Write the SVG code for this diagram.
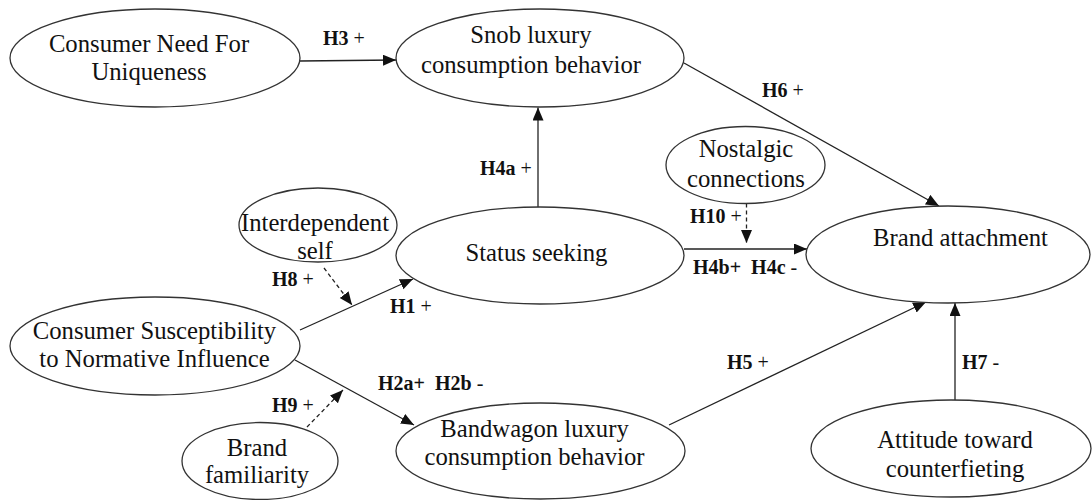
<svg xmlns="http://www.w3.org/2000/svg" width="1092" height="500" viewBox="0 0 1092 500">
<style>
.node ellipse{fill:#fff;stroke:#333;stroke-width:1.3}
.node text{font-family:"Liberation Serif","Times New Roman",serif;font-size:24.7px;fill:#111;text-anchor:middle}
.conn line{stroke:#222;stroke-width:1.3;fill:none}
.conn line.dash{stroke-dasharray:4 3}
.lbl{font-family:"Liberation Serif","Times New Roman",serif;font-size:20px;fill:#111}
.lbl .b{font-weight:bold}
</style>
<defs>
<marker id="arr" markerUnits="userSpaceOnUse" markerWidth="14" markerHeight="12" refX="13" refY="5.5" orient="auto">
<path d="M0,0 L13,5.5 L0,11 z" fill="#111"/>
</marker>
</defs>
<rect width="1092" height="500" fill="#fff"/>
<g id="connectors" class="conn">
<line x1="300" y1="61" x2="396" y2="60" marker-end="url(#arr)"/>
<line x1="538" y1="207" x2="538" y2="107.5" marker-end="url(#arr)"/>
<line x1="684" y1="63" x2="939" y2="206" marker-end="url(#arr)"/>
<line x1="300" y1="330" x2="413" y2="279" marker-end="url(#arr)"/>
<line x1="295" y1="360" x2="414" y2="425" marker-end="url(#arr)"/>
<line x1="684" y1="249" x2="807" y2="249" marker-end="url(#arr)"/>
<line x1="669" y1="425" x2="926" y2="302" marker-end="url(#arr)"/>
<line x1="955" y1="400" x2="955" y2="303" marker-end="url(#arr)"/>
<line class="dash" x1="746.5" y1="203.5" x2="746.5" y2="243" marker-end="url(#arr)"/>
<line class="dash" x1="324" y1="268" x2="352" y2="305" marker-end="url(#arr)"/>
<line class="dash" x1="307" y1="427" x2="343" y2="390" marker-end="url(#arr)"/>
</g>
<g id="labels" class="lbl">
<text x="323" y="45"><tspan class="b">H3</tspan> +</text>
<text x="480" y="175"><tspan class="b">H4a</tspan> +</text>
<text x="762" y="97"><tspan class="b">H6</tspan> +</text>
<text x="690" y="223"><tspan class="b">H10</tspan> +</text>
<text x="272" y="286"><tspan class="b">H8</tspan> +</text>
<text x="390" y="313"><tspan class="b">H1</tspan> +</text>
<text x="693" y="274" xml:space="preserve"><tspan class="b">H4b+  H4c</tspan> -</text>
<text x="378" y="390" xml:space="preserve"><tspan class="b">H2a+  H2b</tspan> -</text>
<text x="272" y="412"><tspan class="b">H9</tspan> +</text>
<text x="727" y="369"><tspan class="b">H5</tspan> +</text>
<text x="962" y="369"><tspan class="b">H7</tspan> -</text>
</g>
<g id="cnfu" class="node">
<ellipse cx="155" cy="58" rx="145" ry="49"/>
<text x="149" y="52">Consumer Need For</text>
<text x="149" y="80">Uniqueness</text>
</g>
<g id="snob" class="node">
<ellipse cx="540" cy="58" rx="144" ry="49"/>
<text x="531" y="43">Snob luxury</text>
<text x="531" y="73">consumption behavior</text>
</g>
<g id="interdependent" class="node">
<ellipse cx="318" cy="225" rx="79" ry="37"/>
<text x="315" y="231">Interdependent</text>
<text x="315" y="259">self</text>
</g>
<g id="status" class="node">
<ellipse cx="540" cy="255.5" rx="144" ry="48.5"/>
<text x="536.5" y="261">Status seeking</text>
</g>
<g id="nostalgic" class="node">
<ellipse cx="745.5" cy="165" rx="79.5" ry="38.5"/>
<text x="746" y="157">Nostalgic</text>
<text x="746" y="187">connections</text>
</g>
<g id="brandattachment" class="node">
<ellipse cx="948" cy="254.5" rx="142" ry="48.5"/>
<text x="960.5" y="246">Brand attachment</text>
</g>
<g id="csni" class="node">
<ellipse cx="155" cy="346" rx="145" ry="49"/>
<text x="154.5" y="339">Consumer Susceptibility</text>
<text x="154.5" y="367">to Normative Influence</text>
</g>
<g id="bandwagon" class="node">
<ellipse cx="540.5" cy="451" rx="144.5" ry="48"/>
<text x="534.5" y="437">Bandwagon luxury</text>
<text x="534.5" y="465">consumption behavior</text>
</g>
<g id="familiarity" class="node">
<ellipse cx="260" cy="461" rx="78" ry="38.5"/>
<text x="257" y="456">Brand</text>
<text x="257" y="483">familiarity</text>
</g>
<g id="attitude" class="node">
<ellipse cx="951" cy="448.5" rx="140" ry="48.5"/>
<text x="955" y="448">Attitude toward</text>
<text x="955" y="477">counterfieting</text>
</g>
</svg>
